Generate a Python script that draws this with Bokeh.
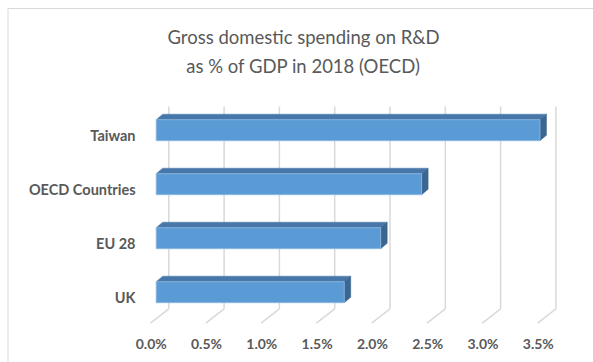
from bokeh.plotting import figure
from bokeh.models import Range1d
from bokeh.embed import file_html
from bokeh.resources import INLINE
from bokeh.core.properties import value

# ---- data ----
categories = ["UK", "EU 28", "OECD Countries", "Taiwan"]
values = [1.70, 2.03, 2.40, 3.47]
tick_values = [0.0, 0.5, 1.0, 1.5, 2.0, 2.5, 3.0, 3.5]
tick_labels = ["0.0%", "0.5%", "1.0%", "1.5%", "2.0%", "2.5%", "3.0%", "3.5%"]
title_lines = ["Gross domestic spending on R&D", "as % of GDP in 2018 (OECD)"]

# ---- layout (pixels) ----
W, H = 593, 362
X0 = 150.0      # pixel x of 0% on the front floor edge
SX = 110.6      # pixels per 1 %
Y_REF = 291.7   # pixel y of first category bar centre
SY = 54.0       # pixels between categories
DEPTH_DX, DEPTH_DY = 18.3, 14.4   # oblique depth of the plot box
BAR_FRONT_DX = 5.7                # bar front face offset from front floor
BAR_DX, BAR_DY = 6.5, 5.5         # bar depth
BAR_HALF = 10.5
WALL_TOP = 106.0
FLOOR_BACK = 308.3
FLOOR_FRONT = 322.7

def dx(px):
    return px / SX

def dy(px):
    return px / SY

def yd(py):
    return (Y_REF - py) / SY

def xd(px):
    return (px - X0) / SX

GREY = "#595959"
GRID = "#D9D9D9"
FRONT = "#5B9BD5"
TOP = "#4677A8"
SIDE = "#3A6690"

p = figure(width=W, height=H, x_range=Range1d(xd(0), xd(W)), y_range=Range1d(yd(H), yd(0)),
           toolbar_location=None, output_backend="svg", min_border=0,
           x_axis_location=None, y_axis_location=None)
p.grid.visible = False
p.outline_line_color = None
p.background_fill_color = "white"
p.border_fill_color = "white"

# chart area border (top and left visible)
p.line([xd(7.5), xd(W + 5)], [yd(8), yd(8)], line_color=GRID, line_width=1)
p.line([xd(7.5), xd(7.5)], [yd(8), yd(H + 5)], line_color=GRID, line_width=1)

# back wall gridlines + floor diagonals
bx = [t + dx(DEPTH_DX) for t in tick_values]
p.segment(x0=bx, y0=[yd(WALL_TOP)] * len(bx), x1=bx, y1=[yd(FLOOR_BACK)] * len(bx),
          line_color=GRID, line_width=1.5)
p.segment(x0=bx, y0=[yd(FLOOR_BACK)] * len(bx), x1=tick_values, y1=[yd(FLOOR_FRONT)] * len(bx),
          line_color=GRID, line_width=1.5)

# bars
idx = list(range(len(categories)))
lefts = [dx(BAR_FRONT_DX)] * len(values)
rights = [v + dx(BAR_FRONT_DX) for v in values]
bottoms = [i - dy(BAR_HALF) for i in idx]
tops = [i + dy(BAR_HALF) for i in idx]
ddx, ddy = dx(BAR_DX), dy(BAR_DY)

top_xs = [[l, r, r + ddx, l + ddx] for l, r in zip(lefts, rights)]
top_ys = [[t, t, t + ddy, t + ddy] for t in tops]
side_xs = [[r, r, r + ddx, r + ddx] for r in rights]
side_ys = [[b, t, t + ddy, b + ddy] for b, t in zip(bottoms, tops)]

p.patches(top_xs, top_ys, fill_color=TOP, line_color=TOP, line_width=0.5)
p.patches(side_xs, side_ys, fill_color=SIDE, line_color=SIDE, line_width=0.5)
p.quad(left=lefts, right=rights, bottom=bottoms, top=tops,
       fill_color=FRONT, line_color="#8DB7E2", line_width=0.8)

# category labels
p.text(x=[xd(135)] * len(categories), y=[i - dy(5.5) for i in idx], text=categories,
       text_align="right", text_baseline="middle", text_color=GREY,
       text_font=value("Lato"), text_font_style="bold", text_font_size="14.5px")

# tick labels
p.text(x=[t + dx(0.7) for t in tick_values], y=[yd(342.5)] * len(tick_values), text=tick_labels,
       text_align="center", text_baseline="middle", text_color=GREY,
       text_font=value("Lato"), text_font_style="bold", text_font_size="14px")

# title
p.text(x=[xd(303)] * 2, y=[yd(36), yd(65)], text=title_lines,
       text_align="center", text_baseline="middle", text_color=GREY,
       text_font=value("Lato"), text_font_size="18.5px")

open("out.html", "w").write(file_html(p, INLINE))
